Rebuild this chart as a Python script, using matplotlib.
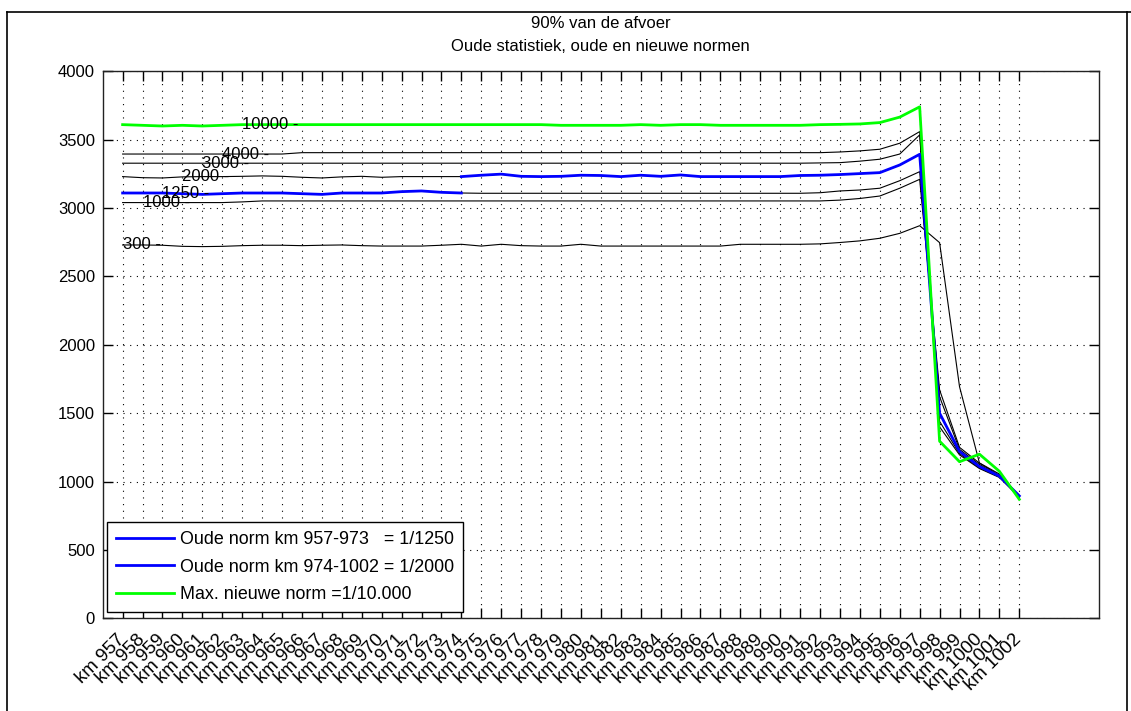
import matplotlib.pyplot as plt
from matplotlib.lines import Line2D

plt.rcParams['font.family'] = ['Liberation Sans', 'DejaVu Sans']

# km 957 .. km 1002
km_labels = ["km %d" % k for k in range(957, 1003)]

q300 = [2730, 2730, 2728, 2720, 2718, 2720, 2725, 2728, 2728, 2725,
        2728, 2730, 2725, 2722, 2722, 2722, 2728, 2735, 2722, 2735,
        2725, 2722, 2722, 2735, 2722, 2722, 2722, 2722, 2722, 2722,
        2722, 2735, 2735, 2735, 2735, 2738, 2748, 2760, 2779, 2815,
        2871, 2747, 1694, 1136, 1055, 880]
q1000 = [3040, 3040, 3040, 3040, 3040, 3040, 3045, 3052, 3052, 3052,
         3052, 3052, 3052, 3052, 3052, 3052, 3052, 3052, 3052, 3052,
         3052, 3052, 3052, 3052, 3052, 3052, 3052, 3052, 3052, 3052,
         3052, 3052, 3052, 3052, 3052, 3052, 3058, 3070, 3088, 3145,
         3210, 1670, 1250, 1135, 1045, 898]
q1250 = [3110, 3110, 3110, 3105, 3100, 3105, 3110, 3110, 3110, 3105,
         3100, 3110, 3110, 3110, 3120, 3125, 3115, 3110, 3108, 3108,
         3108, 3108, 3108, 3108, 3108, 3108, 3108, 3108, 3108, 3108,
         3108, 3108, 3108, 3108, 3108, 3112, 3125, 3132, 3145, 3200,
         3266, 1620, 1235, 1125, 1038, 893]
q2000 = [3230, 3222, 3220, 3228, 3230, 3230, 3232, 3235, 3232, 3225,
         3220, 3228, 3232, 3225, 3230, 3230, 3230, 3230, 3240, 3248,
         3232, 3230, 3232, 3240, 3238, 3230, 3240, 3232, 3242, 3230,
         3230, 3230, 3230, 3230, 3238, 3240, 3245, 3252, 3259, 3315,
         3393, 1500, 1220, 1110, 1040, 895]
q3000 = [3328, 3328, 3328, 3328, 3328, 3328, 3328, 3328, 3328, 3328,
         3328, 3328, 3328, 3328, 3328, 3328, 3328, 3328, 3328, 3328,
         3328, 3328, 3328, 3328, 3328, 3328, 3328, 3328, 3328, 3328,
         3328, 3328, 3328, 3328, 3328, 3330, 3332, 3343, 3357, 3395,
         3535, 1440, 1205, 1100, 1035, 890]
q4000 = [3395, 3395, 3395, 3395, 3395, 3395, 3395, 3395, 3395, 3405,
         3405, 3405, 3405, 3405, 3405, 3405, 3405, 3405, 3405, 3405,
         3405, 3405, 3405, 3405, 3405, 3405, 3405, 3405, 3405, 3405,
         3405, 3405, 3405, 3405, 3405, 3405, 3410, 3418, 3430, 3474,
         3559, 1400, 1195, 1095, 1030, 885]
q10000 = [3610, 3605, 3600, 3605, 3600, 3605, 3610, 3610, 3610, 3610,
          3610, 3610, 3610, 3610, 3610, 3610, 3610, 3610, 3610, 3610,
          3610, 3610, 3605, 3605, 3605, 3605, 3610, 3605, 3610, 3610,
          3605, 3605, 3605, 3605, 3605, 3610, 3612, 3615, 3625, 3665,
          3740, 1295, 1145, 1200, 1075, 870]

# oude normen: km 957-974 -> 1/1250, km 974-1002 -> 1/2000
old_1250 = q1250[:18]
old_2000 = q2000[17:]

norm_names = ["300", "1000", "1250", "2000", "3000", "4000", "10000"]
norm_series = [q300, q1000, q1250, q2000, q3000, q4000, q10000]

legend_labels = ["Oude norm km 957-973   = 1/1250",
                 "Oude norm km 974-1002 = 1/2000",
                 "Max. nieuwe norm =1/10.000"]

x = list(range(1, len(km_labels) + 1))

fig = plt.figure(figsize=(11.31, 7.11), dpi=100)
ax = fig.add_axes([102.7 / 1131, 1 - 618.3 / 711, 996.3 / 1131, 547 / 711])

for s in norm_series[:-1]:
    ax.plot(x, s, color="black", lw=0.8)

ax.plot(x[:18], old_1250, color="#0000ff", lw=2.0, label=legend_labels[0])
ax.plot(x[17:], old_2000, color="#0000ff", lw=2.0, label=legend_labels[1])
ax.plot(x, q10000, color="#00ff00", lw=2.0, label=legend_labels[2])

# labels bij de lijnen
for i, (name, s) in enumerate(zip(norm_names, norm_series)):
    ax.text(x[i], s[i], name + " -", ha="left", va="center", fontsize=12)

ax.set_xlim(0, 50)
ax.set_ylim(0, 4000)
ax.set_yticks(range(0, 4001, 500))
ax.set_xticks(x)
ax.set_xticklabels(km_labels, rotation=45, ha="right", va="center",
                   rotation_mode="anchor", fontsize=13.5)
ax.tick_params(axis="y", labelsize=12, pad=5.5)
ax.tick_params(direction="in", length=7, width=1, top=True, right=True)
ax.tick_params(axis="x", pad=13.5)
ax.grid(True, color="black", linestyle=(0, (1, 5)), lw=0.8)
for sp in ax.spines.values():
    sp.set_linewidth(1.0)
    sp.set_color("#222222")

ax.set_title("90% van de afvoer\nOude statistiek, oude en nieuwe normen",
             fontsize=12, pad=14.5, linespacing=1.64)

leg = ax.legend(loc="lower left", bbox_to_anchor=(0.0046, 0.012),
                borderaxespad=0, fancybox=False, framealpha=1,
                edgecolor="black", fontsize=12.9, handlelength=3.2,
                handletextpad=0.35, labelspacing=0.57, borderpad=0.5)
leg.get_frame().set_linewidth(1.0)

# rand om de figuur
fig.add_artist(Line2D([7 / 1131, 1], [1 - 12 / 711, 1 - 12 / 711],
                      transform=fig.transFigure, color="black", lw=1.2))
fig.add_artist(Line2D([7 / 1131, 7 / 1131], [0, 1 - 12 / 711],
                      transform=fig.transFigure, color="black", lw=1.2))
fig.add_artist(Line2D([1127 / 1131, 1127 / 1131], [0, 1 - 12 / 711],
                      transform=fig.transFigure, color="black", lw=1.2))

fig.savefig("out.png", dpi=100)
